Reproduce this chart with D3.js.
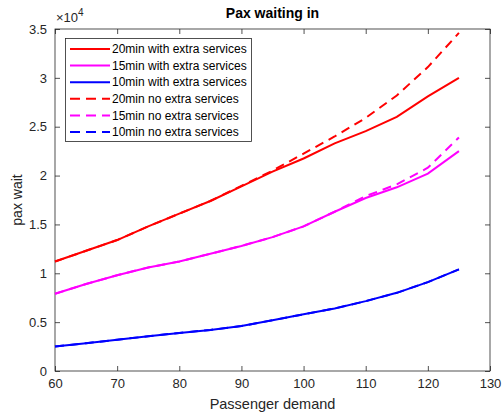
<!DOCTYPE html>
<html>
<head>
<meta charset="utf-8">
<script src="https://cdn.jsdelivr.net/npm/d3@7"></script>
<style>
  body { margin: 0; background: #fff; }
  text { font-family: "Liberation Sans", Arial, sans-serif; }
</style>
</head>
<body>
<div id="chart"></div>
<script>
var demand = [60, 65, 70, 75, 80, 85, 90, 95, 100, 105, 110, 115, 120, 125];

var extra20 = [11200, 12300, 13400, 14800, 16100, 17400, 18900, 20400, 21750, 23300, 24550, 26000, 28100, 30000];
var extra15 = [7900, 8900, 9800, 10600, 11200, 12000, 12800, 13700, 14800, 16300, 17700, 18800, 20200, 22500];
var extra10 = [2500, 2850, 3200, 3550, 3900, 4200, 4600, 5200, 5800, 6400, 7150, 8000, 9100, 10400];
var none20 = [11200, 12300, 13400, 14800, 16100, 17400, 18950, 20500, 22250, 24000, 25900, 28200, 31100, 34600];
var none15 = [7900, 8900, 9800, 10600, 11200, 12000, 12800, 13700, 14800, 16300, 17900, 19100, 20800, 23900];
var none10 = [2500, 2850, 3200, 3550, 3900, 4200, 4600, 5200, 5800, 6400, 7150, 8000, 9100, 10400];

var seriesNames = ["20min with extra services", "15min with extra services", "10min with extra services",
                   "20min no extra services", "15min no extra services", "10min no extra services"];
var seriesData = [extra20, extra15, extra10, none20, none15, none10];
var seriesColors = ["#ff0000", "#ff00ff", "#0000ff", "#ff0000", "#ff00ff", "#0000ff"];
var seriesDashed = [false, false, false, true, true, true];

var xTicks = [60, 70, 80, 90, 100, 110, 120, 130];
var yTicks = [0, 5000, 10000, 15000, 20000, 25000, 30000, 35000];

var width = 504, height = 415;
var plotLeft = 55, plotRight = 490, plotTop = 29, plotBottom = 371;
var axisColor = "#262626";

var svg = d3.select("#chart").append("svg")
    .attr("width", width)
    .attr("height", height);

var x = d3.scaleLinear().domain([60, 130]).range([plotLeft, plotRight]);
var y = d3.scaleLinear().domain([0, 35000]).range([plotBottom, plotTop]);

// box
svg.append("rect")
    .attr("x", plotLeft)
    .attr("y", plotTop)
    .attr("width", plotRight - plotLeft)
    .attr("height", plotBottom - plotTop)
    .style("fill", "#fff")
    .style("stroke", axisColor)
    .style("stroke-width", 0.8);

// axes with inward ticks
var xAxis = svg.append("g")
    .attr("transform", "translate(0," + plotBottom + ")")
    .call(d3.axisBottom(x).tickValues(xTicks).tickSize(-5).tickPadding(8).tickFormat(d3.format("d")));
var xAxisTop = svg.append("g")
    .attr("transform", "translate(0," + plotTop + ")")
    .call(d3.axisTop(x).tickValues(xTicks).tickSize(-5).tickFormat(""));
var yAxis = svg.append("g")
    .attr("transform", "translate(" + plotLeft + ",0)")
    .call(d3.axisLeft(y).tickValues(yTicks).tickSize(-5).tickPadding(8)
        .tickFormat(function(d) { return d3.format("")(d / 10000); }));
var yAxisRight = svg.append("g")
    .attr("transform", "translate(" + plotRight + ",0)")
    .call(d3.axisRight(y).tickValues(yTicks).tickSize(-5).tickFormat(""));

[xAxis, xAxisTop, yAxis, yAxisRight].forEach(function(g) {
    g.select(".domain").remove();
    g.selectAll("line").style("stroke", axisColor).style("stroke-width", 0.8);
    g.selectAll("text").style("fill", axisColor).style("font-size", "13px");
});

// exponent label
var expo = svg.append("text")
    .attr("x", plotLeft + 1)
    .attr("y", 22)
    .style("fill", axisColor)
    .style("font-size", "13px");
expo.append("tspan").text("×10");
expo.append("tspan").attr("dy", -6).style("font-size", "10px").text("4");

// lines
var line = d3.line()
    .x(function(d, i) { return x(demand[i]); })
    .y(function(d) { return y(d); });

seriesData.forEach(function(s, k) {
    svg.append("path")
        .datum(s)
        .attr("d", line)
        .style("fill", "none")
        .style("stroke", seriesColors[k])
        .style("stroke-width", 2)
        .style("stroke-dasharray", seriesDashed[k] ? "9,6" : null);
});

// legend
var legend = svg.append("g");
legend.append("rect")
    .attr("x", 65.5)
    .attr("y", 38.5)
    .attr("width", 186)
    .attr("height", 103)
    .style("fill", "#fff")
    .style("stroke", axisColor)
    .style("stroke-width", 0.8);

seriesNames.forEach(function(name, k) {
    var ly = 49 + k * 16.6;
    legend.append("line")
        .attr("x1", 70)
        .attr("x2", 110)
        .attr("y1", ly)
        .attr("y2", ly)
        .style("stroke", seriesColors[k])
        .style("stroke-width", 2)
        .style("stroke-dasharray", seriesDashed[k] ? "10,6" : null);
    legend.append("text")
        .attr("x", 112)
        .attr("y", ly)
        .attr("dy", "0.35em")
        .style("font-size", "12px")
        .style("fill", "#000")
        .text(name);
});

// title and labels
svg.append("text")
    .attr("x", (plotLeft + plotRight) / 2)
    .attr("y", 18)
    .attr("text-anchor", "middle")
    .style("font-size", "14px")
    .style("font-weight", "bold")
    .style("fill", "#000")
    .text("Pax waiting in");

svg.append("text")
    .attr("x", (plotLeft + plotRight) / 2)
    .attr("y", 409)
    .attr("text-anchor", "middle")
    .style("font-size", "14.5px")
    .style("fill", axisColor)
    .text("Passenger demand");

svg.append("text")
    .attr("transform", "translate(22," + ((plotTop + plotBottom) / 2) + ") rotate(-90)")
    .attr("text-anchor", "middle")
    .style("font-size", "14px")
    .style("fill", axisColor)
    .text("pax wait");
</script>
</body>
</html>
